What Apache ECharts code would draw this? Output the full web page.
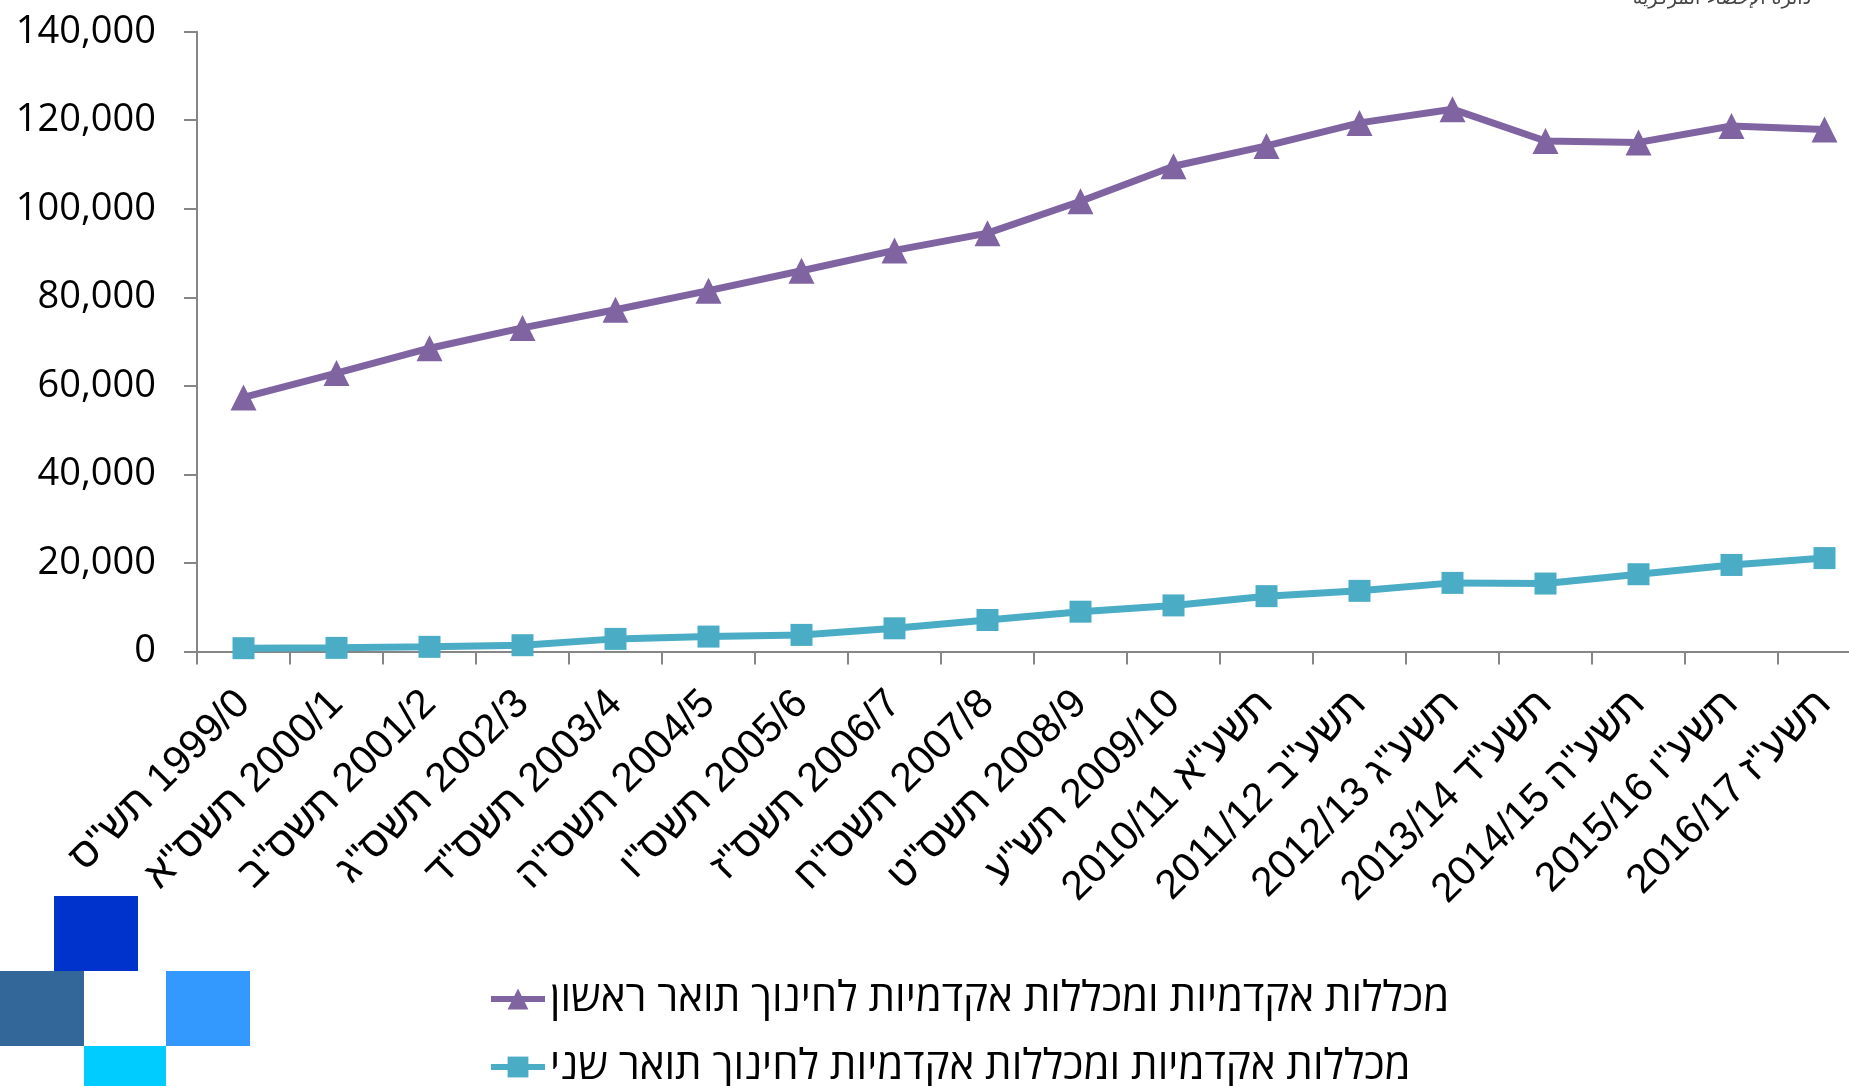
<!DOCTYPE html>
<html>
<head>
<meta charset="utf-8">
<script src="https://cdn.jsdelivr.net/npm/echarts@6/dist/echarts.min.js"></script>
<style>
html,body{margin:0;padding:0;background:#fff;}
#chart{width:1849px;height:1086px;}
</style>
</head>
<body>
<div id="chart"></div>
<script>
// Hebrew school years and Gregorian years (x-axis tick labels)
const hebrewYears = ['תש"ס','תשס"א','תשס"ב','תשס"ג','תשס"ד','תשס"ה','תשס"ו','תשס"ז','תשס"ח','תשס"ט','תש"ע','תשע"א','תשע"ב','תשע"ג','תשע"ד','תשע"ה','תשע"ו','תשע"ז'];
const gregorianYears = ['1999/0','2000/1','2001/2','2002/3','2003/4','2004/5','2005/6','2006/7','2007/8','2008/9','2009/10','2010/11','2011/12','2012/13','2013/14','2014/15','2015/16','2016/17'];

// Series names
const seriesFirstName = 'מכללות אקדמיות ומכללות אקדמיות לחינוך תואר ראשון';
const seriesSecondName = 'מכללות אקדמיות ומכללות אקדמיות לחינוך תואר שני';

// Values (students)
const firstDegree = [57400, 62900, 68500, 73100, 77200, 81500, 86000, 90600, 94500, 101700, 109600, 114200, 119400, 122500, 115300, 115000, 118700, 117900];
const secondDegree = [750, 820, 1050, 1420, 2850, 3370, 3750, 5240, 7120, 8990, 10410, 12500, 13700, 15500, 15350, 17450, 19550, 21100];

// Y axis ticks
const yMin = 0, yMax = 140000, yStep = 20000;

// Build category labels (first 11 show Hebrew on the left, later ones number first)
const categories = hebrewYears.map((h, i) =>
  i < 11 ? (h + '\u200E ' + gregorianYears[i]) : (gregorianYears[i] + ' ' + h)
);

const chart = echarts.init(document.getElementById('chart'), null, {renderer: 'canvas'});
const axisGray = '#868686';
chart.setOption({
  animation: false,
  backgroundColor: '#ffffff',
  grid: {left: 197, right: -22, top: 31.7, bottom: 434.5, containLabel: false, outerBoundsMode: 'none'},
  xAxis: {
    type: 'category',
    data: categories,
    boundaryGap: true,
    axisLine: {show: true, lineStyle: {color: axisGray, width: 2}},
    axisTick: {show: true, alignWithLabel: false, interval: 0, length: 13, lineStyle: {color: axisGray, width: 2}},
    axisLabel: {
      interval: 0, rotate: 45, margin: 46,
      color: '#000', fontSize: 41,
      fontFamily: 'Liberation Sans, Arial, DejaVu Sans, sans-serif'
    },
    splitLine: {show: false}
  },
  yAxis: {
    type: 'value',
    min: yMin, max: yMax, interval: yStep,
    axisLine: {show: true, lineStyle: {color: axisGray, width: 2}},
    axisTick: {show: true, length: 13, lineStyle: {color: axisGray, width: 2}},
    axisLabel: {
      margin: 41, color: '#000', fontSize: 38,
      fontFamily: 'Open Sans, Lato, DejaVu Sans, sans-serif',
      formatter: v => v.toLocaleString('en-US')
    },
    splitLine: {show: false}
  },
  legend: {
    orient: 'vertical',
    left: 488, top: 978, height: 200, padding: 0,
    itemWidth: 54, itemHeight: 26, itemGap: 26,
    lineStyle: {width: 6},
    textStyle: {color: '#000', fontSize: 42, lineHeight: 40, fontFamily: 'Open Sans, Liberation Sans, DejaVu Sans, sans-serif'},
    data: [seriesFirstName, seriesSecondName]
  },
  series: [
    {
      name: seriesFirstName, type: 'line', data: firstDegree,
      symbol: 'triangle', symbolSize: 26,
      lineStyle: {color: '#8064A2', width: 7},
      itemStyle: {color: '#8064A2'}
    },
    {
      name: seriesSecondName, type: 'line', data: secondDegree,
      symbol: 'rect', symbolSize: 22,
      lineStyle: {color: '#4BACC6', width: 7},
      itemStyle: {color: '#4BACC6'}
    }
  ],
  graphic: [
    {type: 'rect', shape: {x: 54, y: 896, width: 84, height: 75}, style: {fill: '#0033CC'}},
    {type: 'rect', shape: {x: 0, y: 971, width: 84, height: 75}, style: {fill: '#336699'}},
    {type: 'rect', shape: {x: 166, y: 971, width: 84, height: 75}, style: {fill: '#3399FF'}},
    {type: 'rect', shape: {x: 84, y: 1046, width: 82, height: 45}, style: {fill: '#00CCFF'}},
    {type: 'text', right: 38, top: -10, style: {text: 'دائرة الإحصاء المركزية', fontSize: 19, fill: '#444', fontFamily: 'DejaVu Sans, Noto Sans, sans-serif'}}
  ]
});
</script>
</body>
</html>
